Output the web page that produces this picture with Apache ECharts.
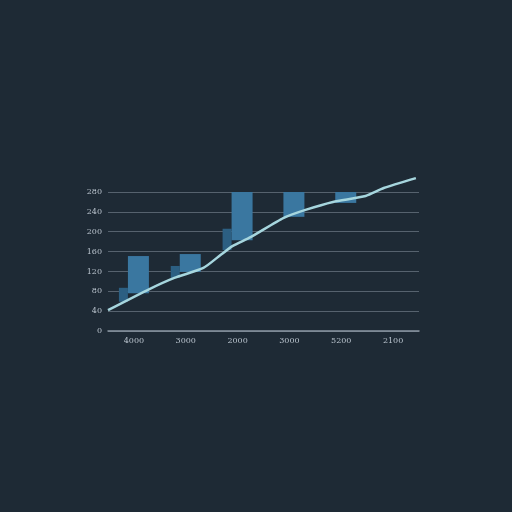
<!DOCTYPE html>
<html><head><meta charset="utf-8">
<script src="https://cdn.jsdelivr.net/npm/echarts@6/dist/echarts.min.js"></script>
<style>html,body{margin:0;padding:0;background:#1e2a35;}#c{width:512px;height:512px;}</style>
</head><body><div id="c"></div>
<script>
const categories = ['4000', '3000', '2000', '3000', '5200', '2100'];
const yTicks = [0, 40, 80, 120, 160, 200, 240, 280];
const smallBottom = [59, 107, 163, 0, 0, 0];
const smallTop = [87, 131, 206, 0, 0, 0];
const bigBottom = [76, 119, 183, 230, 258, 0];
const bigTop = [151, 155, 280, 280, 280, 0];
const lineX = [0, 0.79, 1.28, 1.84, 2.17, 2.40, 2.75, 3.39, 3.81, 4.34, 4.97, 5.32, 5.94];
const lineY = [42, 84, 107, 127, 153, 171, 189, 228, 244, 260, 272, 288, 308];

const chart = echarts.init(document.getElementById('c'));
const diff = (t, b) => t.map((v, i) => v - b[i]);
chart.setOption({
  backgroundColor: '#1e2a35',
  animation: false,
  grid: { left: 108, right: 93, top: 192, bottom: 181 },
  xAxis: [
    { type: 'category', data: categories, boundaryGap: true,
      axisLine: { lineStyle: { color: '#8a96a2', width: 1.5 } },
      axisTick: { show: false },
      axisLabel: { color: '#b8c2cc', fontSize: 8, margin: 6, fontFamily: 'DejaVu Serif' } },
    { type: 'value', min: 0, max: 6, show: false }
  ],
  yAxis: {
    type: 'value', min: 0, max: 280, interval: 40,
    axisLine: { show: false }, axisTick: { show: false },
    axisLabel: { color: '#b8c2cc', fontSize: 8, margin: 6, fontFamily: 'DejaVu Serif',
      formatter: v => yTicks.includes(v) ? String(v) : '' },
    splitLine: { lineStyle: { color: '#56626e', width: 1 } }
  },
  series: [
    { type: 'bar', stack: 's', barWidth: 9, barGap: '0%', data: smallBottom,
      itemStyle: { color: 'transparent' }, silent: true },
    { type: 'bar', stack: 's', barWidth: 9, barGap: '0%', data: diff(smallTop, smallBottom),
      itemStyle: { color: '#2c5f82' } },
    { type: 'bar', stack: 'b', barWidth: 21, barGap: '0%', data: bigBottom,
      itemStyle: { color: 'transparent' }, silent: true },
    { type: 'bar', stack: 'b', barWidth: 21, barGap: '0%', data: diff(bigTop, bigBottom),
      itemStyle: { color: '#3a77a0' } },
    { type: 'line', xAxisIndex: 1, data: lineX.map((x, i) => [x, lineY[i]]),
      showSymbol: false, smooth: 0.2, clip: false,
      lineStyle: { color: '#a6d6de', width: 2.5 }, z: 5 }
  ]
});
</script></body></html>
